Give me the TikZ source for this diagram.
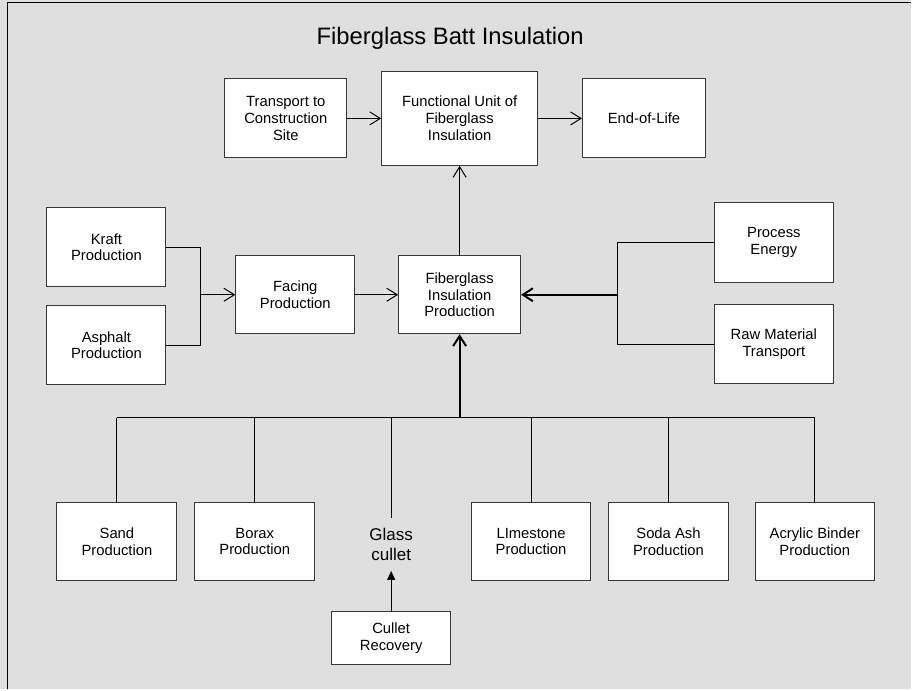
\documentclass[tikz,border=0pt]{standalone}
\usepackage{fontspec}
\setmainfont{Liberation Sans}
\usetikzlibrary{positioning,arrows.meta}
\definecolor{panelgray}{RGB}{223,223,223}
\definecolor{edgegray}{RGB}{55,55,55}
\tikzset{
  box/.style={draw=edgegray,fill=white,rectangle,line width=1pt,minimum width=120pt,minimum height=79pt,align=center,inner sep=0pt,font=\fontsize{14.8}{16.8}\selectfont},
  arr/.style={-{Straight Barb[length=10.5pt,width=13pt]},line width=1pt},
  thickarr/.style={-{Straight Barb[length=10pt,width=13pt]},line width=2pt},
  wire/.style={line width=1pt},
  thickwire/.style={line width=2pt}
}

\begin{document}
\begin{tikzpicture}[x=1pt,y=-1pt]

\fill[panelgray] (0,0) rectangle (912,690);
\draw[line width=1.5pt] (7.5,690) -- (7.5,2.5) -- (912,2.5);
\useasboundingbox (0,0) rectangle (912,690);

\node[anchor=base,font=\fontsize{23.8}{28}\selectfont] (title) at (450.5,45) {Fiberglass Batt Insulation};

\node[box,minimum width=122pt] (transport) at (286,118.5) {Transport to\\Construction\\Site};
\node[box,minimum width=156pt,minimum height=94pt] (funit) at (460,118.5) {Functional Unit of\\Fiberglass\\Insulation};
\node[box,minimum width=123pt] (eol) at (644.5,118.5) {End-of-Life};

\node[box,minimum width=119pt] (kraft) at (106.5,247.5) {Kraft\\Production};
\node[box,minimum width=119pt] (asphalt) at (106.5,345.5) {Asphalt\\Production};
\node[box,minimum width=119pt,minimum height=78pt] (facing) at (295.5,295) {Facing\\Production};
\node[box,minimum width=122pt,minimum height=78pt] (fip) at (460,295) {Fiberglass\\Insulation\\Production};
\node[box,minimum width=119pt,minimum height=80pt] (energy) at (774.5,243) {Process\\Energy};
\node[box,minimum width=119pt] (rawmat) at (774.5,344.5) {Raw Material\\Transport};

\node[box,minimum height=78pt] (sand) at (117,542) {Sand\\Production};
\node[box,minimum height=78pt] (borax) at (255,542) {Borax\\Production};
\node[align=center,inner xsep=0pt,inner ysep=10pt,font=\fontsize{17}{20}\selectfont] (cullet) at (391.5,545) {Glass\\cullet};
\node[box,minimum width=119pt,minimum height=78pt] (limestone) at (531.5,542) {LImestone\\Production};
\node[box,minimum height=78pt] (soda) at (669,542) {Soda Ash\\Production};
\node[box,minimum width=119pt,minimum height=78pt] (acrylic) at (815.5,542) {Acrylic Binder\\Production};
\node[box,minimum width=119pt,minimum height=53pt] (recovery) at (391.5,638.5) {Cullet\\Recovery};

\coordinate (kj) at (201,295);
\coordinate (ej) at (618,295);
\coordinate (bus) at (460,418);

\draw[arr] (transport) -- (funit);
\draw[arr] (funit) -- (eol);
\draw[arr] (fip) -- (funit);
\draw[arr] (facing) -- (fip);

\draw[wire] (kraft.east) -- (kj |- kraft.east) -- (kj |- asphalt.east) -- (asphalt.east);
\draw[arr] (kj) -- (facing.west);

\draw[wire] (energy.west) -- (ej |- energy.west) -- (ej |- rawmat.west) -- (rawmat.west);
\draw[thickarr] (ej) -- (fip.east);

\draw[thickarr] (bus) -- (fip.south);
\draw[wire] (sand.north |- bus) -- (acrylic.north |- bus);
\foreach \n in {sand,borax,cullet,limestone,soda,acrylic}
  \draw[wire] (\n.north |- bus) -- (\n.north);

\draw[-{Triangle[length=9pt,width=8pt]},line width=1pt] (recovery) -- (cullet);
\end{tikzpicture}
\end{document}
